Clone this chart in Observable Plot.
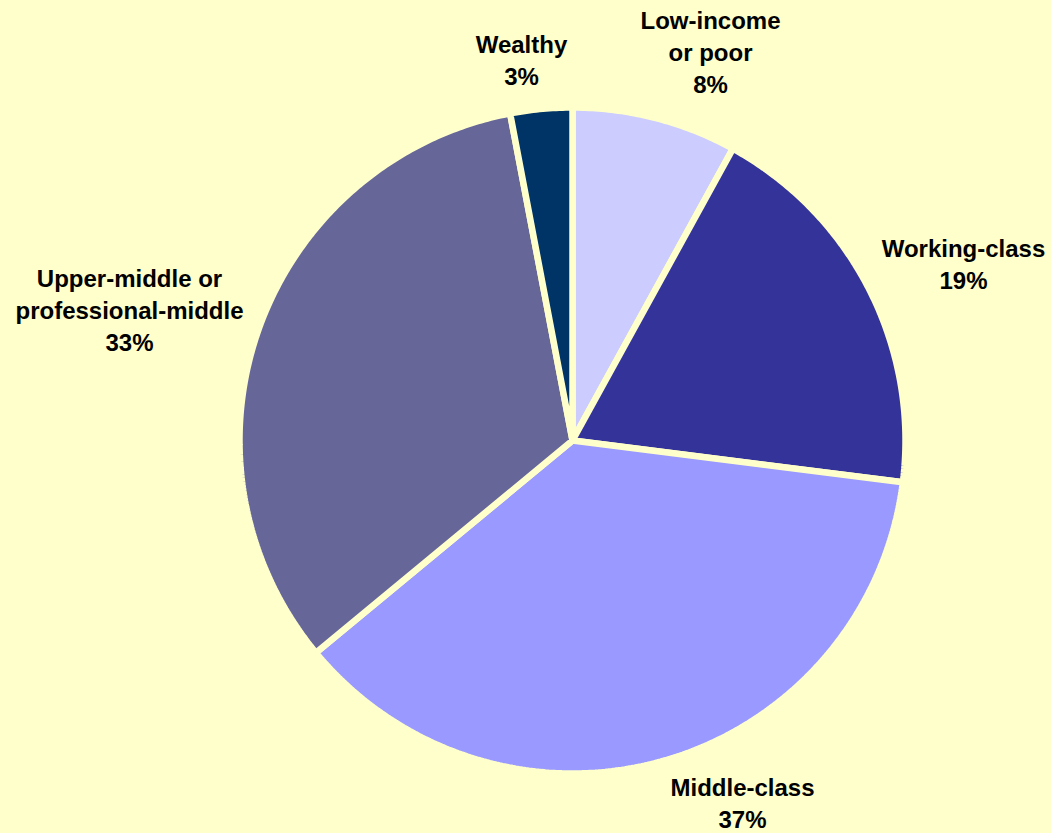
<!DOCTYPE html>
<html><head><meta charset="utf-8">
<script src="https://cdn.jsdelivr.net/npm/d3@7"></script>
<script src="https://cdn.jsdelivr.net/npm/@observablehq/plot@0.6"></script>
<style>html,body{margin:0;padding:0;background:#FFFFCC;overflow:hidden}</style>
</head><body><div id="chart"></div>
<script>
// ---- data ----
const categories = ["Low-income or poor", "Working-class", "Middle-class", "Upper-middle or professional-middle", "Wealthy"];
const labelNames = ["Low-income\nor poor", "Working-class", "Middle-class", "Upper-middle or\nprofessional-middle", "Wealthy"];
const shares = [8, 19, 37, 33, 3];
const colors = ["#CCCCFF", "#333399", "#9999FF", "#666699", "#003366"];

// ---- layout (pixels relative to pie centre) ----
const R = 333;
const labelX = [138, 391, 170, -443, -51];
const labelY = [-390, -178, 361, -132, -382];

const pie = d3.pie().sort(null).value(d => d)(shares);
const pts = [];
pie.forEach((p, i) => {
  const name = categories[i];
  pts.push({name, x: 0, y: 0});
  const n = Math.max(8, Math.ceil((p.endAngle - p.startAngle) / 0.01));
  for (let k = 0; k <= n; k++) {
    const a = p.startAngle + (p.endAngle - p.startAngle) * k / n;
    pts.push({name, x: R * Math.sin(a), y: -R * Math.cos(a)});
  }
});
const labels = categories.map((c, i) => ({
  name: c, x: labelX[i], y: labelY[i], text: labelNames[i] + "\n" + shares[i] + "%"
}));

const chart = Plot.plot({
  width: 1051, height: 833, margin: 0,
  x: {domain: [-572, 479], range: [0, 1051], axis: null},
  y: {domain: [-440, 393], range: [0, 833], axis: null},
  color: {domain: categories, range: colors},
  style: {background: "#FFFFCC", overflow: "visible"},
  marks: [
    Plot.line(pts, {x: "x", y: "y", z: "name", fill: "name", stroke: "#FFFFCC",
      strokeWidth: 6.5, strokeLinejoin: "miter", curve: "linear-closed"}),
    Plot.text(labels, {x: "x", y: "y", text: "text", fontSize: 24, fontWeight: "bold",
      fill: "black", lineHeight: 1.33, fontFamily: "'Liberation Sans', Arial, sans-serif"})
  ]
});
document.getElementById("chart").appendChild(chart);
</script>
</body></html>
